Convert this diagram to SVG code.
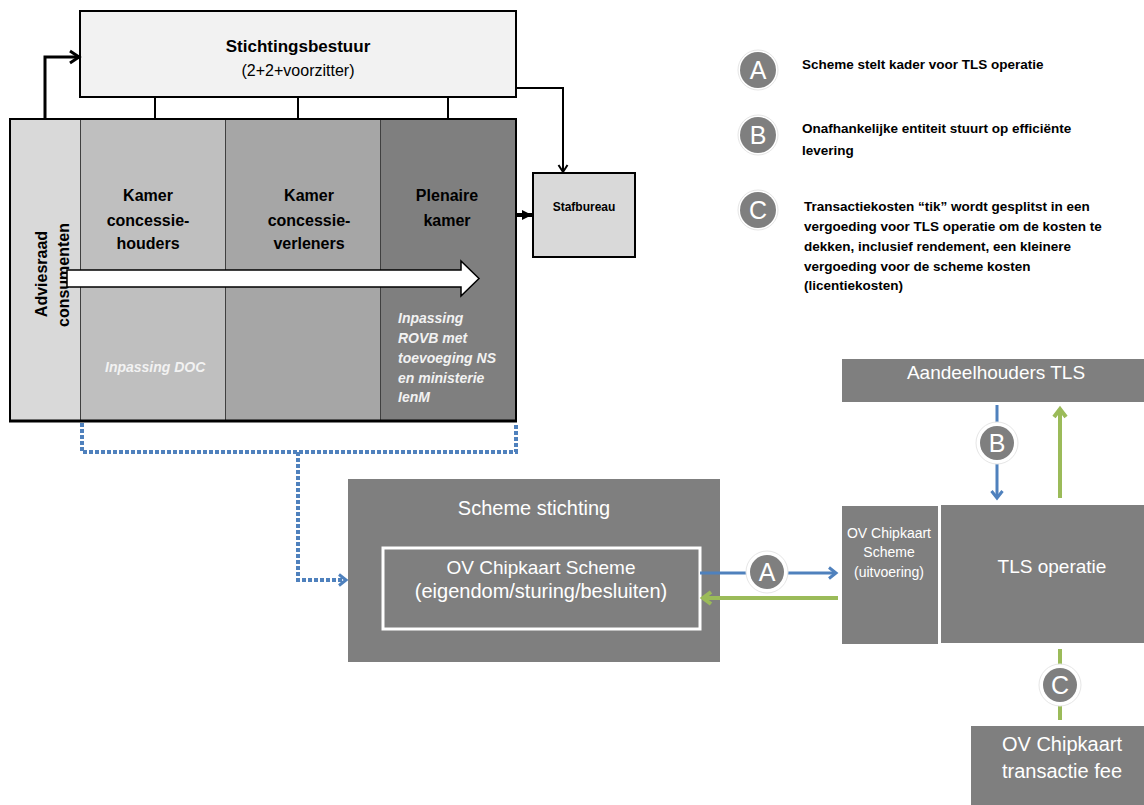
<svg xmlns="http://www.w3.org/2000/svg" width="1144" height="805" viewBox="0 0 1144 805">
<style>
text{font-family:"Liberation Sans",Arial,sans-serif}
.b{font-weight:bold;fill:#000}
.ct{text-anchor:middle}
.wi{font-weight:bold;font-style:italic;fill:#f2f2f2;font-size:14px}
.wt{fill:#fff;text-anchor:middle}
.leg{font-size:13.5px;font-weight:bold;fill:#000}
.box{stroke:#000;stroke-width:2}
.sep{stroke:#404040;stroke-width:1}
.blk{fill:none;stroke:#000;stroke-width:2}
.blue{fill:none;stroke:#4f81bd;stroke-width:3}
.green{fill:none;stroke:#9bbb59;stroke-width:4}
.dot{fill:none;stroke:#4f81bd;stroke-width:4;stroke-dasharray:4 2}
.halo{fill:#fff;stroke:#e6e6e6;stroke-width:1}
.disc{fill:#7f7f7f}
.let{fill:#fff;font-size:25px;text-anchor:middle}
</style>
<defs>
<marker id="chevK" markerUnits="userSpaceOnUse" markerWidth="16" markerHeight="16" refX="12" refY="8" orient="auto">
<path d="M3,2 L12,8 L3,14" fill="none" stroke="#000" stroke-width="3"/>
</marker>
<marker id="chevKs" markerUnits="userSpaceOnUse" markerWidth="12" markerHeight="12" refX="9" refY="6" orient="auto">
<path d="M2,1.5 L9,6 L2,10.5" fill="none" stroke="#000" stroke-width="2"/>
</marker>
<marker id="triK" markerUnits="userSpaceOnUse" markerWidth="12" markerHeight="12" refX="10" refY="6" orient="auto">
<path d="M0,1 L10,6 L0,11 Z" fill="#000"/>
</marker>
<marker id="chevB" markerUnits="userSpaceOnUse" markerWidth="14" markerHeight="14" refX="10" refY="7" orient="auto">
<path d="M3,1.5 L10,7 L3,12.5" fill="none" stroke="#4f81bd" stroke-width="3"/>
</marker>
<marker id="chevG" markerUnits="userSpaceOnUse" markerWidth="16" markerHeight="16" refX="11" refY="8" orient="auto">
<path d="M3,2 L11,8 L3,14" fill="none" stroke="#9bbb59" stroke-width="4"/>
</marker>
</defs>

<g id="stichtingsbestuur">
<rect x="80" y="11" width="436" height="86" fill="#f2f2f2" class="box"/>
<text x="298" y="52" class="b ct" font-size="17">Stichtingsbestuur</text>
<text x="298" y="76" class="ct" font-size="16" fill="#000">(2+2+voorzitter)</text>
</g>

<g id="kamers">
<rect x="10" y="119" width="506" height="302" fill="#d9d9d9"/>
<rect x="80" y="119" width="145" height="302" fill="#bfbfbf"/>
<rect x="225" y="119" width="155" height="302" fill="#a6a6a6"/>
<rect x="380" y="119" width="136" height="302" fill="#7f7f7f"/>
<line x1="80.5" y1="119" x2="80.5" y2="421" class="sep"/>
<line x1="225.5" y1="119" x2="225.5" y2="421" class="sep"/>
<line x1="380.5" y1="119" x2="380.5" y2="421" class="sep"/>
<rect x="10" y="119" width="506" height="302" fill="none" class="box"/>
<line x1="9" y1="421" x2="517" y2="421" stroke="#000" stroke-width="3"/>
</g>

<g id="adviesraad">
<text transform="translate(47,274) rotate(-90)" class="b ct" font-size="16">Adviesraad</text>
<text transform="translate(69,275) rotate(-90)" class="b ct" font-size="16">consumenten</text>
</g>

<g id="kamer-concessiehouders">
<text x="148" y="201" class="b ct" font-size="16">Kamer</text>
<text x="148" y="226" class="b ct" font-size="16">concessie-</text>
<text x="148" y="249" class="b ct" font-size="16">houders</text>
<text x="105" y="372" class="wi">Inpassing DOC</text>
</g>

<g id="kamer-concessieverleners">
<text x="309" y="201" class="b ct" font-size="16">Kamer</text>
<text x="309" y="226" class="b ct" font-size="16">concessie-</text>
<text x="309" y="249" class="b ct" font-size="16">verleners</text>
</g>

<g id="plenaire-kamer">
<text x="447" y="201" class="b ct" font-size="16">Plenaire</text>
<text x="447" y="226" class="b ct" font-size="16">kamer</text>
<text x="398" y="323" class="wi">Inpassing</text>
<text x="398" y="343" class="wi">ROVB met</text>
<text x="398" y="363" class="wi">toevoeging NS</text>
<text x="398" y="383" class="wi">en ministerie</text>
<text x="398" y="402" class="wi">IenM</text>
</g>

<g id="proces-pijl">
<path d="M67,270 L461,270 L461,261 L479,278.5 L461,296 L461,287 L67,287 Z" fill="#fff" stroke="#000" stroke-width="1.5"/>
</g>

<g id="stafbureau">
<rect x="533" y="173" width="102" height="84" fill="#d9d9d9" class="box"/>
<text x="584" y="211" class="b ct" font-size="12">Stafbureau</text>
</g>

<g id="scheme-stichting">
<rect x="348" y="479" width="372" height="183" fill="#7f7f7f"/>
<text x="534" y="515" class="wt" font-size="20">Scheme stichting</text>
</g>

<g id="ov-chipkaart-scheme">
<rect x="383" y="548" width="317" height="81" fill="#7f7f7f" stroke="#fff" stroke-width="3"/>
<text x="541" y="574" class="wt" font-size="19">OV Chipkaart Scheme</text>
<text x="541" y="598" class="wt" font-size="20">(eigendom/sturing/besluiten)</text>
</g>

<g id="aandeelhouders-tls">
<rect x="842" y="359" width="302" height="43" fill="#7f7f7f"/>
<text x="996" y="379" class="wt" font-size="19">Aandeelhouders TLS</text>
</g>

<g id="tls-operatie">
<rect x="940" y="505" width="204" height="138" fill="#7f7f7f"/>
<text x="1052" y="573" class="wt" font-size="19">TLS operatie</text>
</g>

<g id="ov-chipkaart-uitvoering">
<rect x="840.5" y="504.5" width="99" height="141" fill="#7f7f7f" stroke="#fff" stroke-width="3"/>
<text x="889" y="538" class="wt" font-size="14">OV Chipkaart</text>
<text x="889" y="557" class="wt" font-size="14">Scheme</text>
<text x="889" y="577" class="wt" font-size="14">(uitvoering)</text>
</g>

<g id="transactie-fee">
<rect x="971" y="726" width="173" height="79" fill="#7f7f7f"/>
<text x="1062" y="751" class="wt" font-size="20">OV Chipkaart</text>
<text x="1062" y="778" class="wt" font-size="20">transactie fee</text>
</g>

<g id="connectors">
<line x1="155" y1="97" x2="155" y2="119" class="blk"/>
<line x1="298" y1="97" x2="298" y2="119" class="blk"/>
<line x1="448" y1="97" x2="448" y2="119" class="blk"/>
<path d="M45,119 L45,57 L79,57" fill="none" stroke="#000" stroke-width="3" marker-end="url(#chevK)"/>
<path d="M516,88 L563,88 L563,172" class="blk" marker-end="url(#chevKs)"/>
<line x1="517" y1="215" x2="532" y2="215" stroke="#000" stroke-width="4" marker-end="url(#triK)"/>
<path d="M82,423 L82,452 L516,452 L516,423" class="dot"/>
<path d="M298,452 L298,580 L346,580" class="dot" marker-end="url(#chevB)"/>
<line x1="700" y1="573" x2="836" y2="573" class="blue" marker-end="url(#chevB)"/>
<line x1="838" y1="598" x2="703" y2="598" class="green" marker-end="url(#chevG)"/>
<line x1="997" y1="405" x2="997" y2="498" class="blue" marker-end="url(#chevB)"/>
<line x1="1060" y1="498" x2="1060" y2="409" class="green" marker-end="url(#chevG)"/>
<line x1="1060" y1="649" x2="1060" y2="720" class="green"/>
</g>

<g id="badge-a">
<circle cx="767" cy="572" r="21" class="halo"/>
<circle cx="767" cy="572" r="17" class="disc"/>
<text x="767" y="581" class="let">A</text>
</g>
<g id="badge-b">
<circle cx="997" cy="443" r="21" class="halo"/>
<circle cx="997" cy="443" r="17" class="disc"/>
<text x="997" y="452" class="let">B</text>
</g>
<g id="badge-c">
<circle cx="1060" cy="685" r="21" class="halo"/>
<circle cx="1060" cy="685" r="17" class="disc"/>
<text x="1060" y="694" class="let">C</text>
</g>

<g id="legend-a">
<circle cx="758" cy="70" r="20" class="halo"/>
<circle cx="758" cy="70" r="18" class="disc"/>
<text x="758" y="79" class="let">A</text>
<text x="802" y="69" class="leg">Scheme stelt kader voor TLS operatie</text>
</g>
<g id="legend-b">
<circle cx="758" cy="135" r="20" class="halo"/>
<circle cx="758" cy="135" r="18" class="disc"/>
<text x="758" y="144" class="let">B</text>
<text x="802" y="133" class="leg">Onafhankelijke entiteit stuurt op efficiënte</text>
<text x="802" y="155" class="leg">levering</text>
</g>
<g id="legend-c">
<circle cx="758" cy="210" r="20" class="halo"/>
<circle cx="758" cy="210" r="18" class="disc"/>
<text x="758" y="219" class="let">C</text>
<text x="804" y="211" class="leg">Transactiekosten “tik”  wordt gesplitst in een</text>
<text x="804" y="231" class="leg">vergoeding voor TLS operatie om de kosten te</text>
<text x="804" y="251" class="leg">dekken, inclusief rendement, een kleinere</text>
<text x="804" y="271" class="leg">vergoeding voor de scheme kosten</text>
<text x="804" y="290" class="leg">(licentiekosten)</text>
</g>
</svg>
